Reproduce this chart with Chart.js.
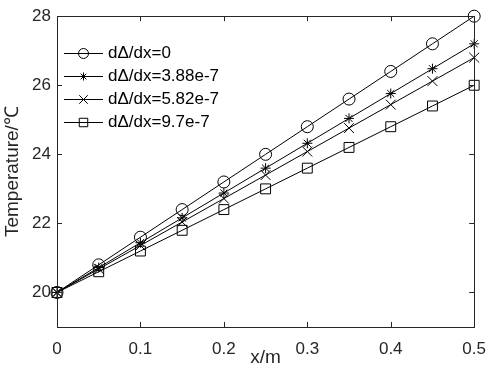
<!DOCTYPE html>
<html>
<head>
<meta charset="utf-8">
<script src="https://cdn.jsdelivr.net/npm/chart.js"></script>
<style>
  html, body { margin: 0; padding: 0; background: #fff; }
  #wrap { width: 498px; height: 370px; }
</style>
</head>
<body>
<div id="wrap"><canvas id="grafico" width="498" height="370"></canvas></div>
<script>
// posicoes ao longo da barra (m)
const X_POS = [0, 0.05, 0.1, 0.15, 0.2, 0.25, 0.3, 0.35, 0.4, 0.45, 0.5];
// temperatura (graus C) para cada gradiente dΔ/dx
const T_GRAD_0   = [20, 20.8, 21.6, 22.4, 23.2, 24.0, 24.8, 25.6, 26.4, 27.2, 28.0];
const T_GRAD_388 = [20, 20.72, 21.44, 22.16, 22.88, 23.6, 24.32, 25.04, 25.76, 26.48, 27.2];
const T_GRAD_582 = [20, 20.68, 21.36, 22.04, 22.72, 23.4, 24.08, 24.76, 25.44, 26.12, 26.8];
const T_GRAD_97  = [20, 20.6, 21.2, 21.8, 22.4, 23.0, 23.6, 24.2, 24.8, 25.4, 26.0];
const LABELS     = ['dΔ/dx=0', 'dΔ/dx=3.88e-7', 'dΔ/dx=5.82e-7', 'dΔ/dx=9.7e-7'];
const X_TICKS    = [0, 0.1, 0.2, 0.3, 0.4, 0.5];
const Y_TICKS    = [20, 22, 24, 26, 28];

const FONTE = '"Liberation Sans", Arial, Helvetica, sans-serif';
const COR_EIXO = '#262626';

const series = [T_GRAD_0, T_GRAD_388, T_GRAD_582, T_GRAD_97];
const estilos = [
  { pointStyle: 'circle',   r: 6 },
  { pointStyle: 'star',     r: 5 },
  { pointStyle: 'crossRot', r: 7 },
  { pointStyle: 'rect',     r: 7 }
];

const datasets = series.map((vals, i) => ({
  label: LABELS[i],
  data: X_POS.map((x, j) => ({ x, y: vals[j] })),
  borderColor: '#000',
  borderWidth: 1,
  pointStyle: estilos[i].pointStyle,
  pointRadius: estilos[i].r,
  pointBorderColor: '#000',
  pointBackgroundColor: 'rgba(0,0,0,0)',
  pointBorderWidth: 1,
  tension: 0,
  fill: false,
  clip: false
}));

// caixa do eixo + ticks para dentro (estilo MATLAB)
const caixaPlugin = {
  id: 'caixa',
  afterDatasetsDraw(chart) {
    const { ctx, chartArea: a, scales } = chart;
    ctx.save();
    ctx.strokeStyle = COR_EIXO;
    ctx.lineWidth = 1;
    ctx.strokeRect(Math.round(a.left) + 0.5, Math.round(a.top) + 0.5,
      Math.round(a.right - a.left), Math.round(a.bottom - a.top));
    const tl = 5;
    ctx.beginPath();
    X_TICKS.forEach(v => {
      const px = Math.round(scales.x.getPixelForValue(v)) + 0.5;
      ctx.moveTo(px, a.bottom); ctx.lineTo(px, a.bottom - tl);
      ctx.moveTo(px, a.top); ctx.lineTo(px, a.top + tl);
    });
    Y_TICKS.forEach(v => {
      const py = Math.round(scales.y.getPixelForValue(v)) + 0.5;
      ctx.moveTo(a.left, py); ctx.lineTo(a.left + tl, py);
      ctx.moveTo(a.right, py); ctx.lineTo(a.right - tl, py);
    });
    ctx.stroke();
    ctx.restore();
  }
};

// legenda dentro da area do grafico
const legendaPlugin = {
  id: 'legendaInterna',
  afterDatasetsDraw(chart) {
    const { ctx } = chart;
    const x0 = 64, x1 = 103, xt = 108;
    ctx.save();
    ctx.font = '17px ' + FONTE;
    ctx.textBaseline = 'middle';
    ctx.textAlign = 'left';
    chart.data.datasets.forEach((ds, i) => {
      const y = 53.5 + i * 23;
      ctx.strokeStyle = '#000';
      ctx.lineWidth = 1;
      ctx.beginPath();
      ctx.moveTo(x0, y); ctx.lineTo(x1, y);
      ctx.stroke();
      ctx.fillStyle = 'rgba(0,0,0,0)';
      Chart.helpers.drawPoint(ctx, {
        pointStyle: ds.pointStyle, rotation: 0, radius: ds.pointRadius - 1, borderWidth: 1
      }, (x0 + x1) / 2, y);
      ctx.fillStyle = '#000';
      ctx.fillText(ds.label, xt, y);
    });
    ctx.restore();
  }
};

new Chart(document.getElementById('grafico'), {
  type: 'line',
  data: { datasets },
  options: {
    responsive: false,
    animation: false,
    layout: { padding: { left: 0, right: 14, top: 9, bottom: 0 } },
    plugins: { legend: { display: false }, tooltip: { enabled: false } },
    scales: {
      x: {
        type: 'linear', min: 0, max: 0.5,
        afterBuildTicks: s => { s.ticks = X_TICKS.map(v => ({ value: v })); },
        afterFit: s => { s.height = 43; },
        grid: { display: false, drawTicks: false },
        border: { display: false },
        ticks: {
          padding: 12, color: COR_EIXO, font: { family: FONTE, size: 17 },
          maxRotation: 0, callback: v => String(+v.toFixed(2))
        },
        title: {
          display: true, text: 'x/m', color: COR_EIXO,
          font: { family: FONTE, size: 19 }, padding: { top: 0, bottom: 1 }
        }
      },
      y: {
        type: 'linear', min: 19, max: 28,
        afterBuildTicks: s => { s.ticks = Y_TICKS.map(v => ({ value: v })); },
        afterFit: s => { s.width = 57; },
        grid: { display: false, drawTicks: false },
        border: { display: false },
        ticks: { padding: 6, color: COR_EIXO, font: { family: FONTE, size: 17 } },
        title: {
          display: true, text: 'Temperature/℃', color: COR_EIXO,
          font: { family: FONTE, size: 19 }, padding: { top: 1, bottom: 0 }
        }
      }
    }
  },
  plugins: [caixaPlugin, legendaPlugin]
});
</script>
</body>
</html>
